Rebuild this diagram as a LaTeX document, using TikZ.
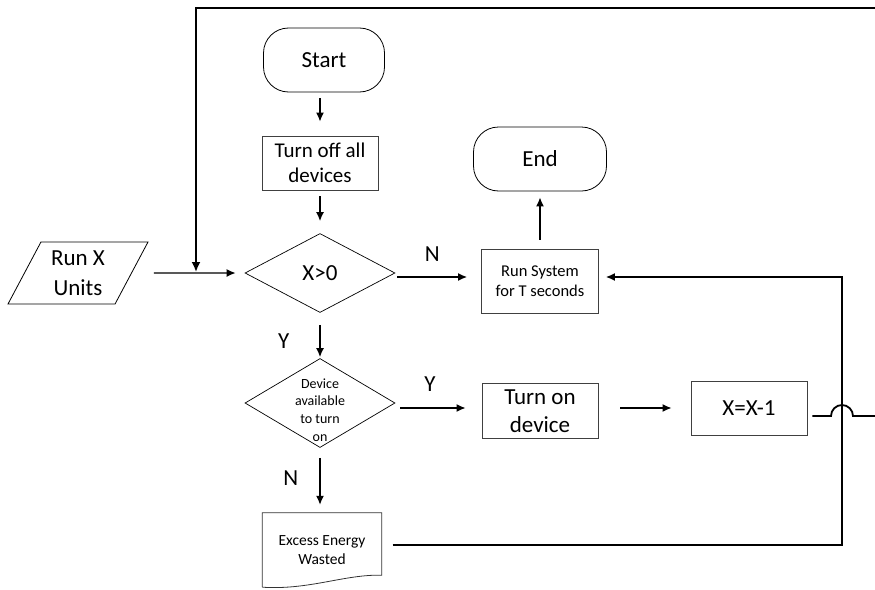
\documentclass[tikz,border=0pt]{standalone}
\usepackage{fontspec}
\setmainfont{Carlito}
\usetikzlibrary{shapes.geometric, arrows.meta, calc}
\tikzset{
	flowchartnode/.style = {text centered, align=center, inner sep=0pt, font=\fontsize{23}{28}\selectfont},
	terminal/.style = {rectangle, rounded corners=25pt, flowchartnode, draw=black, line width=0.8pt, minimum width=121pt, minimum height=64pt},
	process/.style = {rectangle, flowchartnode, draw=black!75, line width=0.8pt, minimum width=116pt, minimum height=54pt},
	decision/.style = {diamond, flowchartnode, draw=black, line width=0.7pt, minimum width=150pt, minimum height=79pt, aspect=1.9},
	io/.style = {trapezium, trapezium left angle=62, trapezium right angle=118, flowchartnode, draw=black, line width=0.8pt, minimum width=140pt, minimum height=54pt},
	docnode/.style = {rectangle, flowchartnode, minimum width=119pt, minimum height=74pt, font=\fontsize{15.5}{19}\selectfont},
	docline/.style = {draw=black!80, line width=0.8pt},
	devtext/.style = {align=center, inner sep=0pt, yshift=-7pt, font=\fontsize{14}{17.7}\selectfont},
	branch/.style = {inner sep=0pt, font=\fontsize{23}{28}\selectfont},
	line/.style = {draw, line width=1.4pt, -{Latex[length=9pt, width=8pt]}},
	loopline/.style = {draw, line width=1.8pt, -{Latex[length=10pt, width=9pt]}}
}

\begin{document}
\begin{tikzpicture}[x=1pt, y=-1pt, node distance=100pt]
	\useasboundingbox (0,0) rectangle (875,589);
	\clip (0,0) rectangle (875,589);

	%定义流程图具体形状
	\node (start) [terminal] at (324,60) {Start};
	\node (turnoff) [process, below of=start, node distance=103pt, xshift=-4pt, font=\fontsize{21}{25}\selectfont] {Turn off all\\devices};
	\node (xcheck) [decision, below of=turnoff, node distance=110pt] {X>0};
	\node (runx) [io, left of=xcheck, node distance=242pt, font=\fontsize{23}{30}\selectfont] {Run X\\Units};
	\node (runsys) [process, right of=xcheck, node distance=220pt, yshift=-8pt, minimum width=117pt, minimum height=64pt, font=\fontsize{16.5}{19.5}\selectfont] {Run System\\for T seconds};
	\node (finish) [terminal, above of=runsys, node distance=122pt, minimum width=133pt] {End};
	\node (device) [decision, below of=xcheck, node distance=130pt, minimum height=89pt, aspect=1.7, label={[devtext]center:{Device\\available\\to turn\\on}}] {};
	\node (turnon) [process, right of=device, node distance=220pt, yshift=-8pt, minimum height=55pt] {Turn on\\device};
	\node (decx) [process, right of=turnon, node distance=209pt, yshift=3pt] {X=X-1};
	\node (excess) [docnode, below of=device, node distance=147pt, xshift=2pt] {Excess Energy\\Wasted};
	\draw [docline] (excess.south west) -- (excess.north west) -- (excess.north east) -- ([yshift=12pt]excess.south east) .. controls ([xshift=-37pt, yshift=13pt]excess.south east) and ([xshift=47pt, yshift=-3pt]excess.south west) .. (excess.south west);

	%回路的拐点
	\coordinate (topl) at (196,8);
	\coordinate (join) at (196,272);
	\coordinate (loopc) at (842,277);
	\coordinate (xout) at ([xshift=5pt, yshift=-8pt]decx.east);

	%连接具体形状
	\path [line, shorten <=6pt, shorten >=14pt] (start.south -| turnoff.north) -- (turnoff.north);
	\path [line, shorten <=6pt, shorten >=12pt] (turnoff) -- (xcheck);
	\path [line, shorten <=22pt, shorten >=9pt] (runx) -- (xcheck);
	\path [line, shorten <=2pt, shorten >=14pt] ([yshift=-4pt]xcheck.east) -- node[branch, above=15pt, pos=0.43] {N} ([yshift=4pt]runsys.west);
	\path [line, shorten <=9pt, shorten >=6pt] (runsys) -- (finish);
	\path [line, shorten <=12pt, shorten >=1pt] (xcheck) -- node[branch, left=30pt, pos=0.63] {Y} (device);
	\path [line, shorten <=5pt, shorten >=16pt] ([yshift=-5pt]device.east) -- node[branch, above=16pt, pos=0.4] {Y} ([yshift=3pt]turnon.west);
	\path [line, shorten <=22pt, shorten >=19pt] ([yshift=3pt]turnon.east) -- (decx.west);
	\path [line, shorten <=10pt, shorten >=8pt] (device.south) -- node[branch, left=21pt, pos=0.46] {N} (device.south |- excess.north);
	\path [line, shorten <=11pt, shorten >=7pt] ([yshift=5pt]excess.east) -| (loopc) -- ([yshift=4pt]runsys.east);
	\path [loopline] (xout) -- ($(xout -| loopc)-(11pt,0)$) arc[start angle=180, end angle=0, radius=11pt] -- ++(40pt,0) |- (topl) -- (join);
\end{tikzpicture}
\end{document}
